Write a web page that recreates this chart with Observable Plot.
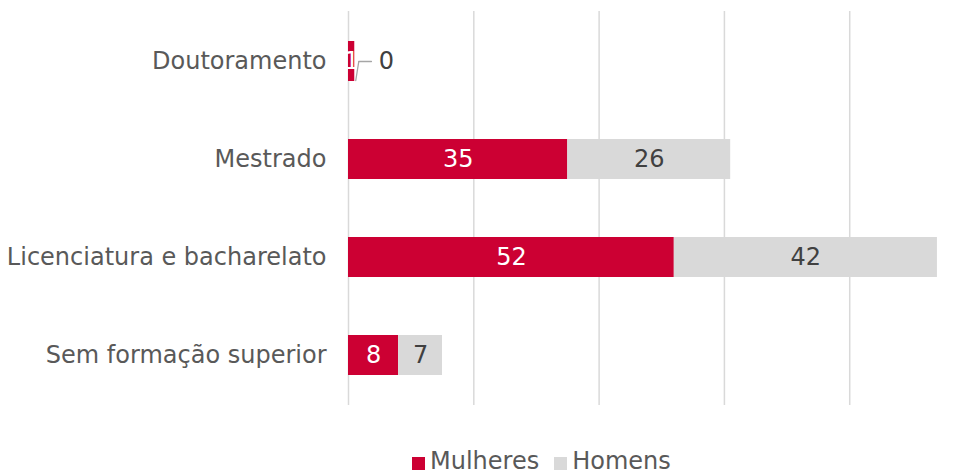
<!DOCTYPE html>
<html>
<head>
<meta charset="utf-8">
<script src="https://cdn.jsdelivr.net/npm/d3@7"></script>
<script src="https://cdn.jsdelivr.net/npm/@observablehq/plot@0.6"></script>
<style>
  html, body { margin: 0; padding: 0; background: #fff; }
  body { width: 962px; height: 473px; position: relative; overflow: hidden; font-family: "DejaVu Sans", Verdana, sans-serif; }
  #legend { position: absolute; left: 412px; top: 450px; display: flex; align-items: flex-start; font-size: 24px; color: #595959; line-height: 22px; height: 22px; }
  #legend .sw { width: 13px; height: 13px; display: inline-block; margin-right: 5px; margin-top: 7px; }
  #legend .item { display: flex; align-items: flex-start; margin-right: 15px; }
</style>
</head>
<body>
<div id="chart"></div>
<div id="legend"></div>
<script>
const categories = ["Doutoramento", "Mestrado", "Licenciatura e bacharelato", "Sem formação superior"];
const series = ["Mulheres", "Homens"];
const mulheres = [1, 35, 52, 8];
const homens = [0, 26, 42, 7];
const gridTicks = [0, 20, 40, 60, 80];
const colors = ["#CC0033", "#D9D9D9"];
const labelColors = ["#ffffff", "#404040"];

const data = [];
categories.forEach((c, i) => {
  data.push({cat: c, sex: series[0], value: mulheres[i]});
  data.push({cat: c, sex: series[1], value: homens[i]});
});
const inside = data.filter(d => d.value > 0);
const zeros = categories.map((c, i) => ({cat: c, end: mulheres[i] + homens[i], value: homens[i]})).filter(d => d.value === 0);

const plot = Plot.plot({
  width: 962,
  height: 448,
  marginLeft: 348,
  marginRight: 0,
  marginTop: 11,
  marginBottom: 43,
  style: {fontFamily: "'DejaVu Sans', Verdana, sans-serif", background: "#fff"},
  x: {domain: [0, 98], axis: null},
  y: {domain: categories, padding: 0, label: null},
  color: {domain: series, range: colors},
  marks: [
    Plot.ruleX(gridTicks, {stroke: "#D9D9D9", strokeWidth: 1.5}),
    Plot.barX(data, {x: "value", y: "cat", fill: "sex", insetTop: 29, insetBottom: 29, order: series}),
    Plot.text(inside, Plot.stackX({x: "value", y: "cat", z: "sex", order: series, text: d => String(d.value),
      fill: d => labelColors[series.indexOf(d.sex)], fontSize: 24})),
    Plot.text(zeros, {x: "end", y: "cat", text: d => String(d.value), textAnchor: "start", dx: 24, fill: "#404040", fontSize: 24}),
    Plot.vector(zeros, {x: "end", y: "cat", dx: 1, dy: 19, length: 19, rotate: 9, anchor: "start", stroke: "#A6A6A6", strokeWidth: 1.3,
      shape: {draw(context, l) { context.moveTo(0, 0); context.lineTo(0, -l); }}}),
    Plot.arrow(zeros, {x1: "end", x2: d => d.end + 2.5, y1: "cat", y2: "cat", dx: 1, headLength: 0, stroke: "#A6A6A6", strokeWidth: 1.3, insetStart: 3}),
    Plot.axisY({tickSize: 0, tickPadding: 22, fontSize: 24, fill: "#595959", label: null})
  ]
});
document.getElementById("chart").appendChild(plot);

const legend = document.getElementById("legend");
series.forEach((s, i) => {
  const item = document.createElement("span");
  item.className = "item";
  const sw = document.createElement("span");
  sw.className = "sw";
  sw.style.background = colors[i];
  item.appendChild(sw);
  item.appendChild(document.createTextNode(s));
  legend.appendChild(item);
});
</script>
</body>
</html>
